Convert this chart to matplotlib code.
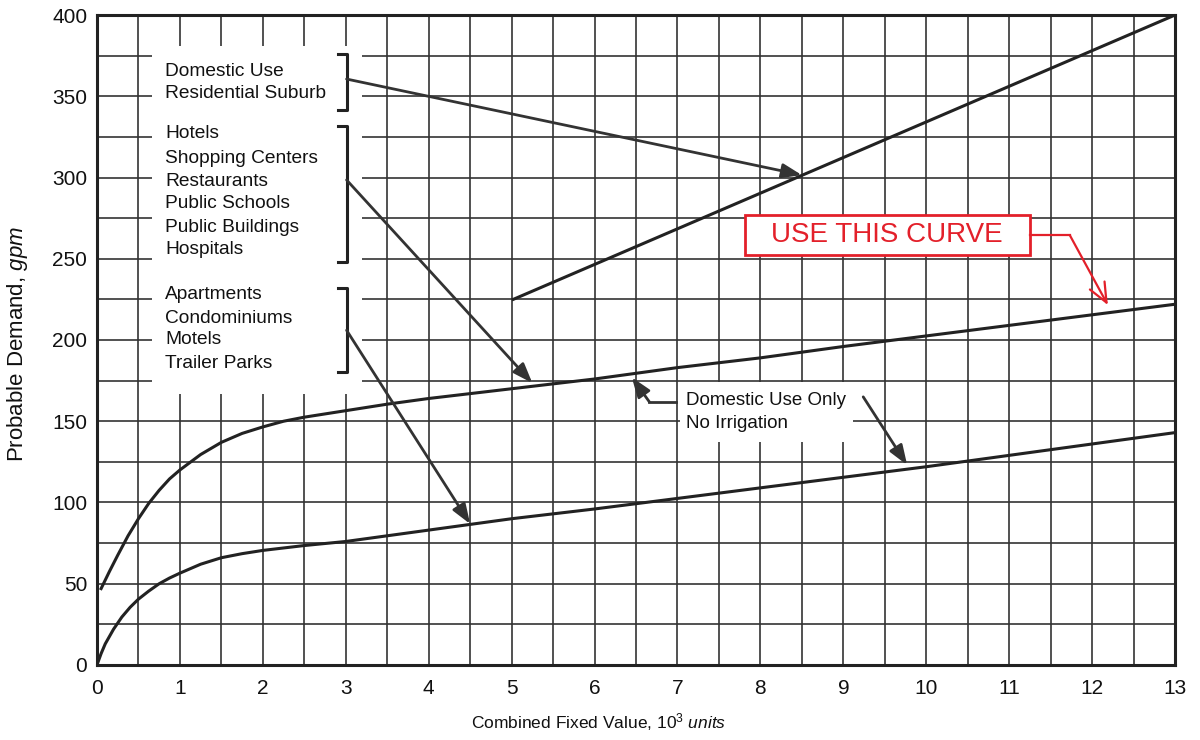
# -*- coding: utf-8 -*-

import matplotlib
matplotlib.use("Agg")
import matplotlib.pyplot as plt
from matplotlib.patches import Rectangle

#---------------------------------------------------------------------------------------------------------------------------------------------

# curva principal (USE THIS CURVE)
x_principal = [0.05, 0.15, 0.25, 0.375, 0.5, 0.625, 0.75, 0.875, 1.0, 1.25, 1.5, 1.75, 2.0, 2.25, 2.5, 3.0, 3.5, 4.0, 5.0, 6.0, 7.0, 8.0, 9.0, 10.0, 11.0, 12.0, 13.0]
y_principal = [47, 57.5, 67.5, 79.5, 90, 99.5, 107.5, 114.5, 120, 129.5, 137, 142.5, 146.5, 150, 152.5, 156.5, 160.5, 164, 170, 176, 183, 189, 196, 202.5, 209, 215.5, 222]

# curva de baixo
x_baixo = [0.0, 0.05, 0.1, 0.2, 0.3, 0.4, 0.5, 0.625, 0.75, 0.875, 1.0, 1.25, 1.5, 1.75, 2.0, 2.5, 3.0, 3.5, 4.0, 5.0, 6.0, 7.0, 8.0, 9.0, 10.0, 11.0, 12.0, 13.0]
y_baixo = [0, 7, 13, 22, 29.5, 35.5, 40.5, 45.5, 50, 53.5, 56.5, 62, 66, 68.5, 70.5, 73.5, 76, 79.5, 83, 90, 96, 102.5, 109, 115.5, 122, 129, 136, 143]

# reta residencial
x_reta = [5.02, 13.0]
y_reta = [225, 400]

grupos = [
	["Domestic Use", "Residential Suburb"],
	["Hotels", "Shopping Centers", "Restaurants", "Public Schools", "Public Buildings", "Hospitals"],
	["Apartments", "Condominiums", "Motels", "Trailer Parks"],
]
y_linhas = [
	[365.5, 351.4],
	[326.8, 312.0, 297.8, 283.7, 269.5, 255.4],
	[227.7, 213.5, 200.0, 185.8],
]
colchetes = [(376, 341.5), (332, 248), (232, 180)]
setas_origem = [(3.01, 360.6), (3.01, 298.5), (3.01, 206)]
setas_destino = [(8.5, 301.5), (5.25, 173.5), (4.5, 86.8)]

x_ticks = list(range(0, 14))
y_ticks = list(range(0, 401, 50))

#---------------------------------------------------------------------------------------------------------------------------------------------

plt.rcParams['font.family'] = ['Liberation Sans', 'DejaVu Sans']
plt.rcParams['mathtext.fontset'] = 'custom'
plt.rcParams['mathtext.rm'] = 'Liberation Sans'
plt.rcParams['mathtext.it'] = 'Liberation Sans:italic'

escuro = '#222222'
vermelho = '#e3202a'
seta = dict(arrowstyle='-|>,head_length=0.6,head_width=0.22', color='#333333', lw=2, shrinkA=0, shrinkB=0, mutation_scale=20)

fig = plt.figure(figsize=(12, 7.4), dpi=100)
ax = fig.add_axes([0.0808, 0.1014, 0.8984, 0.8783])

ax.set_xlim(0, 13)
ax.set_ylim(0, 400)
ax.set_xticks(x_ticks)
ax.set_yticks(y_ticks)
ax.set_xticks([v + 0.5 for v in x_ticks[:-1]], minor=True)
ax.set_yticks([v + 25 for v in y_ticks[:-1]], minor=True)
ax.grid(True, which='both', color='#333333', linewidth=1.2)
ax.set_axisbelow(True)
ax.tick_params(which='both', length=0)
ax.tick_params(axis='x', labelsize=15, pad=10, colors='#111111')
ax.tick_params(axis='y', labelsize=15, pad=7, colors='#111111')
for s in ax.spines.values() :
	s.set_linewidth(2.2)
	s.set_color(escuro)

# caixas brancas sobre a grade
ax.add_patch(Rectangle((0.66, 167), 2.54, 214, facecolor='white', edgecolor='none', zorder=1.5))
ax.add_patch(Rectangle((7.03, 137), 2.09, 37, facecolor='white', edgecolor='none', zorder=1.5))

ax.plot(x_principal, y_principal, color=escuro, linewidth=2.2, zorder=3)
ax.plot(x_baixo, y_baixo, color=escuro, linewidth=2.2, zorder=3)
ax.plot(x_reta, y_reta, color=escuro, linewidth=2.2, zorder=3)

for i in range(len(grupos)) :
	for j in range(len(grupos[i])) :
		ax.text(0.82, y_linhas[i][j], grupos[i][j], fontsize=13.8, va='center', ha='left', color='#111111', zorder=4)
	topo, base = colchetes[i]
	ax.plot([2.91, 3.01, 3.01, 2.91], [topo, topo, base, base], color=escuro, linewidth=2.2, zorder=4)
	ax.annotate('', xy=setas_destino[i], xytext=setas_origem[i], arrowprops=seta, zorder=4)

# Domestic Use Only
ax.text(7.1, 162.5, "Domestic Use Only", fontsize=13.5, va='center', ha='left', color='#111111', zorder=4)
ax.text(7.1, 148.5, "No Irrigation", fontsize=13.5, va='center', ha='left', color='#111111', zorder=4)
ax.plot([6.98, 6.66], [162, 162], color='#333333', linewidth=2, zorder=4)
ax.annotate('', xy=(6.45, 177), xytext=(6.66, 162), arrowprops=seta, zorder=4)
ax.annotate('', xy=(9.77, 123), xytext=(9.24, 165), arrowprops=seta, zorder=4)

# USE THIS CURVE
ax.add_patch(Rectangle((7.81, 252.3), 3.44, 24.6, facecolor='white', edgecolor=vermelho, linewidth=2, zorder=5))
ax.text(9.53, 264.6, "USE THIS CURVE", fontsize=20, color=vermelho, va='center', ha='center', zorder=6)
ax.plot([11.25, 11.73], [264.6, 264.6], color=vermelho, linewidth=1.6, zorder=5)
ax.annotate('', xy=(12.19, 221.5), xytext=(11.73, 264.6),
	arrowprops=dict(arrowstyle='->,head_length=0.7,head_width=0.3', color=vermelho, lw=1.6, shrinkA=0, shrinkB=0, mutation_scale=20), zorder=5)

fig.text(599 / 1200, 1 - 722 / 740, r'Combined Fixed Value, $\mathit{10^3}$ $\mathit{units}$', fontsize=12.5, ha='center', va='center', color='#111111')
fig.text(18 / 1200, 1 - 344 / 740, r'Probable Demand, $\mathit{gpm}$', fontsize=16, ha='center', va='center', rotation=90, color='#111111')

fig.savefig('out.png', dpi=100)
